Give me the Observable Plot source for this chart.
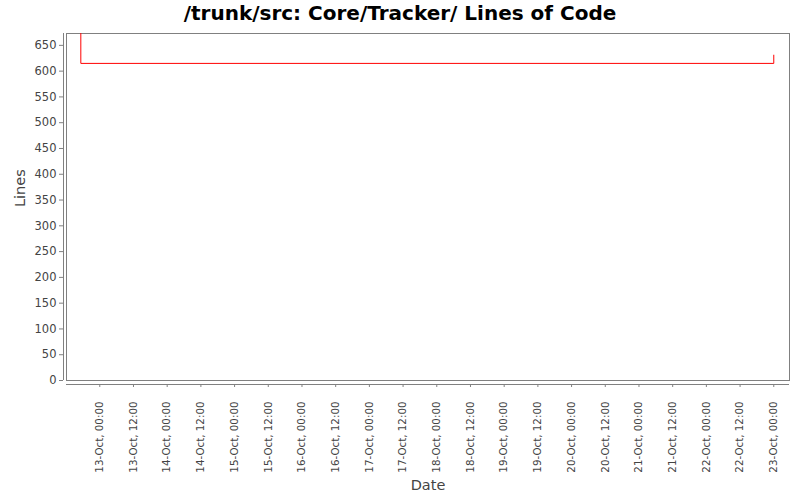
<!DOCTYPE html>
<html>
<head>
<meta charset="utf-8">
<script src="https://cdn.jsdelivr.net/npm/d3@7"></script>
<script src="https://cdn.jsdelivr.net/npm/@observablehq/plot@0.6"></script>
<style>
  html, body { margin: 0; padding: 0; background: #fff; }
  #title { width: 800px; height: 28px; line-height: 26px; text-align: center;
           font-family: "DejaVu Sans", sans-serif; font-weight: bold; font-size: 20px; color: #000; }
</style>
</head>
<body>
<div id="title">/trunk/src: Core/Tracker/ Lines of Code</div>
<div id="chart"></div>
<script>
// Data
const dates = ["2008-10-12T17:15Z", "2008-10-12T17:15Z", "2008-10-23T00:00Z"];
const lineCounts = [700, 615, 631];

// Axis settings
const xDomain = ["2008-10-12T12:09Z", "2008-10-23T05:36Z"];
const yDomain = [0, 673];
const yTicks = [0, 50, 100, 150, 200, 250, 300, 350, 400, 450, 500, 550, 600, 650];
const xTicks = [
  "2008-10-13T00:00Z", "2008-10-13T12:00Z", "2008-10-14T00:00Z", "2008-10-14T12:00Z",
  "2008-10-15T00:00Z", "2008-10-15T12:00Z", "2008-10-16T00:00Z", "2008-10-16T12:00Z",
  "2008-10-17T00:00Z", "2008-10-17T12:00Z", "2008-10-18T00:00Z", "2008-10-18T12:00Z",
  "2008-10-19T00:00Z", "2008-10-19T12:00Z", "2008-10-20T00:00Z", "2008-10-20T12:00Z",
  "2008-10-21T00:00Z", "2008-10-21T12:00Z", "2008-10-22T00:00Z", "2008-10-22T12:00Z",
  "2008-10-23T00:00Z"
];

const data = dates.map((d, i) => ({date: new Date(d), lines: lineCounts[i]}));
const fmt = d3.utcFormat("%d-%b, %H:%M");
const axisColor = "#808080";
const textColor = "#444";

const chart = Plot.plot({
  width: 800,
  height: 472,
  marginTop: 5,
  marginBottom: 120,
  marginLeft: 66,
  marginRight: 11,
  style: {fontFamily: "DejaVu Sans, sans-serif", fontSize: "11.5px", color: textColor, background: "#fff"},
  x: {type: "utc", domain: xDomain.map(d => new Date(d))},
  y: {domain: yDomain},
  marks: [
    Plot.frame({stroke: axisColor}),
    Plot.line(data, {x: "date", y: "lines", curve: "step-after", stroke: "#ff0000", strokeWidth: 1, clip: true}),
    // offset axis lines
    Plot.ruleX([new Date(xDomain[0])], {dx: -3, stroke: axisColor}),
    Plot.ruleY([0], {dy: 4, stroke: axisColor}),
    Plot.axisY({ticks: yTicks, tickSize: 4, tickPadding: 3, dx: -3, stroke: axisColor, fill: textColor, label: null, fontSize: 11.5}),
    Plot.axisX({ticks: xTicks.map(d => new Date(d)), tickFormat: fmt, tickSize: 3, tickRotate: -90,
                tickPadding: 14, dy: 4, stroke: axisColor, fill: textColor, label: null, fontSize: 10.3}),
    Plot.text(["Lines"], {frameAnchor: "left", dx: -46, rotate: -90, fontSize: 14.5, fill: textColor}),
    Plot.text(["Date"], {frameAnchor: "bottom", dy: 109, fontSize: 14.5, fill: textColor})
  ]
});
document.getElementById("chart").appendChild(chart);
</script>
</body>
</html>
